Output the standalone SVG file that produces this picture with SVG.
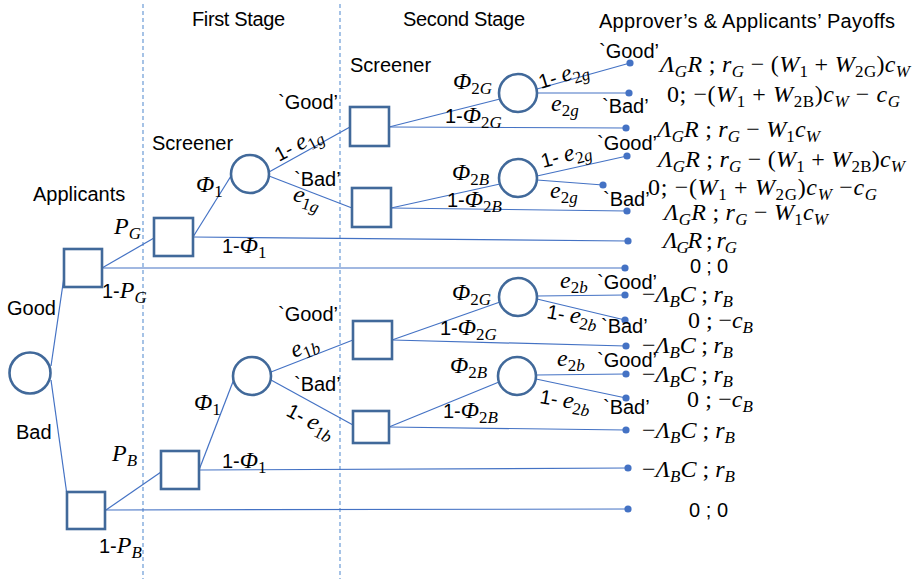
<svg xmlns="http://www.w3.org/2000/svg" width="916" height="579" viewBox="0 0 916 579">
<style>
.bg{fill:#fff}
.dash{stroke:#6B9BD6;stroke-width:1.2;stroke-dasharray:4 3;fill:none}
.ln{stroke:#4472C4;stroke-width:1.2;fill:none}
.dot{fill:#4472C4}
.nd{fill:#fff;stroke:#41699A;stroke-width:2.6}
.t{font-family:"Liberation Sans",Arial,sans-serif;font-size:20px;fill:#000}
.m{font-family:"Liberation Serif","DejaVu Serif",serif;font-style:italic;font-size:24px;fill:#000}
.p{font-family:"Liberation Serif","DejaVu Serif",serif;font-style:italic;font-size:24px;fill:#000}
.sb{font-size:17px}
.p .sb{font-size:17px}
.u{font-style:normal}
.sn{font-family:"Liberation Sans",Arial,sans-serif;font-style:normal;font-size:20px}
</style>
<rect class="bg" x="0" y="0" width="916" height="579"/>
<g id="stage-dividers">
<line class="dash" x1="143" y1="4" x2="143" y2="579"/>
<line class="dash" x1="340" y1="4" x2="340" y2="579"/>
</g>
<g id="connectors">
<line class="ln" x1="51" y1="366" x2="64" y2="277"/>
<line class="ln" x1="51" y1="380" x2="67" y2="495"/>
<line class="ln" x1="102" y1="268" x2="154" y2="238"/>
<line class="ln" x1="102" y1="268" x2="625" y2="268"/>
<line class="ln" x1="193" y1="237" x2="231" y2="176"/>
<line class="ln" x1="193" y1="237" x2="628" y2="241"/>
<line class="ln" x1="269" y1="172" x2="350" y2="127"/>
<line class="ln" x1="269" y1="176" x2="352" y2="208"/>
<line class="ln" x1="389" y1="127" x2="500" y2="99"/>
<line class="ln" x1="389" y1="127" x2="626" y2="128"/>
<line class="ln" x1="537" y1="89" x2="630" y2="63"/>
<line class="ln" x1="537" y1="93" x2="629" y2="93"/>
<line class="ln" x1="391" y1="208" x2="500" y2="184"/>
<line class="ln" x1="391" y1="208" x2="627" y2="211"/>
<line class="ln" x1="537" y1="176" x2="627" y2="156"/>
<line class="ln" x1="537" y1="180" x2="603" y2="185"/>
<line class="ln" x1="106" y1="510" x2="161" y2="472"/>
<line class="ln" x1="106" y1="510" x2="628" y2="509"/>
<line class="ln" x1="199" y1="470" x2="234" y2="379"/>
<line class="ln" x1="199" y1="470" x2="628" y2="468"/>
<line class="ln" x1="271" y1="372" x2="353" y2="340"/>
<line class="ln" x1="271" y1="380" x2="353" y2="425"/>
<line class="ln" x1="392" y1="340" x2="500" y2="302"/>
<line class="ln" x1="392" y1="340" x2="626" y2="346"/>
<line class="ln" x1="537" y1="296" x2="625" y2="295"/>
<line class="ln" x1="537" y1="299" x2="625" y2="320"/>
<line class="ln" x1="389" y1="427" x2="499" y2="382"/>
<line class="ln" x1="389" y1="427" x2="626" y2="430"/>
<line class="ln" x1="536" y1="375" x2="626" y2="374"/>
<line class="ln" x1="536" y1="379" x2="626" y2="398"/>
<g id="end-dots">
<circle class="dot" cx="630" cy="63" r="3.6"/>
<circle class="dot" cx="629" cy="93" r="3.6"/>
<circle class="dot" cx="626" cy="128" r="3.6"/>
<circle class="dot" cx="627" cy="156" r="3.6"/>
<circle class="dot" cx="603" cy="185" r="3.6"/>
<circle class="dot" cx="627" cy="211" r="3.6"/>
<circle class="dot" cx="628" cy="241" r="3.6"/>
<circle class="dot" cx="625" cy="268" r="3.6"/>
<circle class="dot" cx="625" cy="295" r="3.6"/>
<circle class="dot" cx="625" cy="320" r="3.6"/>
<circle class="dot" cx="626" cy="346" r="3.6"/>
<circle class="dot" cx="626" cy="374" r="3.6"/>
<circle class="dot" cx="626" cy="398" r="3.6"/>
<circle class="dot" cx="626" cy="430" r="3.6"/>
<circle class="dot" cx="628" cy="468" r="3.6"/>
<circle class="dot" cx="628" cy="509" r="3.6"/>
</g>
</g>
<g id="nature"><circle class="nd" cx="30" cy="373" r="20.5"/></g>
<g id="applicant-good"><rect class="nd" x="64" y="249" width="38" height="38"/></g>
<g id="applicant-bad"><rect class="nd" x="67" y="492" width="38" height="37"/></g>
<g id="screener1-good"><rect class="nd" x="154" y="218" width="39" height="38"/></g>
<g id="screener1-bad"><rect class="nd" x="161" y="451" width="38" height="38"/></g>
<g id="signal1-good"><circle class="nd" cx="250" cy="174" r="19"/></g>
<g id="signal1-bad"><circle class="nd" cx="252" cy="376" r="19"/></g>
<g id="screener2-gg"><rect class="nd" x="350" y="107" width="39" height="39"/></g>
<g id="screener2-gb"><rect class="nd" x="352" y="188" width="39" height="39"/></g>
<g id="screener2-bg"><rect class="nd" x="353" y="321" width="39" height="38"/></g>
<g id="screener2-bb"><rect class="nd" x="353" y="411" width="36" height="32"/></g>
<g id="signal2-gg"><circle class="nd" cx="518" cy="93" r="19"/></g>
<g id="signal2-gb"><circle class="nd" cx="518" cy="178" r="19"/></g>
<g id="signal2-bg"><circle class="nd" cx="518" cy="297" r="19"/></g>
<g id="signal2-bb"><circle class="nd" cx="517" cy="376" r="19"/></g>
<g id="headings">
<text class="t" x="192" y="26" textLength="93">First Stage</text>
<text class="t" x="403" y="26" textLength="122">Second Stage</text>
<text class="t" x="599" y="28" textLength="296">Approver’s &amp; Applicants’ Payoffs</text>
</g>
<g id="labels">
<text class="t" x="350" y="72">Screener</text>
<text class="t" x="152" y="150">Screener</text>
<text class="t" x="33" y="201">Applicants</text>
<text class="t" x="7" y="315">Good</text>
<text class="t" x="16" y="439">Bad</text>
<text class="t" x="278" y="109">`Good’</text>
<text class="t" x="294" y="186">`Bad’</text>
<text class="t" x="278" y="321">`Good’</text>
<text class="t" x="294" y="391">`Bad’</text>
<text class="t" x="599" y="58">`Good’</text>
<text class="t" x="602" y="113">`Bad’</text>
<text class="t" x="597" y="150">`Good’</text>
<text class="t" x="603" y="206">`Bad’</text>
<text class="t" x="597" y="289">`Good’</text>
<text class="t" x="601" y="333">`Bad’</text>
<text class="t" x="597" y="367">`Good’</text>
<text class="t" x="603" y="414">`Bad’</text>

<text class="m" x="114" y="234">P<tspan class="sb" dy="5">G</tspan></text>
<text class="m" x="102" y="298"><tspan class="sn">1-</tspan>P<tspan class="sb" dy="5">G</tspan></text>
<text class="m" x="112" y="461">P<tspan class="sb" dy="5">B</tspan></text>
<text class="m" x="99" y="553"><tspan class="sn">1-</tspan>P<tspan class="sb" dy="5">B</tspan></text>
<text class="m" x="196" y="192">Φ<tspan class="sb u" dy="5">1</tspan></text>
<text class="m" x="222" y="253"><tspan class="sn">1-</tspan>Φ<tspan class="sb u" dy="5">1</tspan></text>
<text class="m" x="194" y="410">Φ<tspan class="sb u" dy="5">1</tspan></text>
<text class="m" x="222" y="468"><tspan class="sn">1-</tspan>Φ<tspan class="sb u" dy="5">1</tspan></text>
<text class="m" x="279" y="162" transform="rotate(-28 279 162)"><tspan class="sn">1- </tspan>e<tspan class="sb" dy="5"><tspan class="u">1</tspan>g</tspan></text>
<text class="m" x="292" y="200" transform="rotate(18 292 200)">e<tspan class="sb" dy="5"><tspan class="u">1</tspan>g</tspan></text>
<text class="m" x="294" y="358" transform="rotate(-22 294 358)">e<tspan class="sb" dy="5"><tspan class="u">1</tspan>b</tspan></text>
<text class="m" x="285" y="415" transform="rotate(28 285 415)"><tspan class="sn">1- </tspan>e<tspan class="sb" dy="5"><tspan class="u">1</tspan>b</tspan></text>

<text class="m" x="453" y="89">Φ<tspan class="sb" dy="5"><tspan class="u">2</tspan>G</tspan></text>
<text class="m" x="445" y="123"><tspan class="sn">1-</tspan>Φ<tspan class="sb" dy="5"><tspan class="u">2</tspan>G</tspan></text>
<text class="m" x="452" y="180">Φ<tspan class="sb" dy="5"><tspan class="u">2</tspan>B</tspan></text>
<text class="m" x="447" y="207"><tspan class="sn">1-</tspan>Φ<tspan class="sb" dy="5"><tspan class="u">2</tspan>B</tspan></text>
<text class="m" x="452" y="300">Φ<tspan class="sb" dy="5"><tspan class="u">2</tspan>G</tspan></text>
<text class="m" x="440" y="335"><tspan class="sn">1-</tspan>Φ<tspan class="sb" dy="5"><tspan class="u">2</tspan>G</tspan></text>
<text class="m" x="450" y="373">Φ<tspan class="sb" dy="5"><tspan class="u">2</tspan>B</tspan></text>
<text class="m" x="443" y="418"><tspan class="sn">1-</tspan>Φ<tspan class="sb" dy="5"><tspan class="u">2</tspan>B</tspan></text>

<text class="m" x="541" y="89" transform="rotate(-17 541 89)"><tspan class="sn">1- </tspan>e<tspan class="sb" dy="5"><tspan class="u">2</tspan>g</tspan></text>
<text class="m" x="551" y="111">e<tspan class="sb" dy="5"><tspan class="u">2</tspan>g</tspan></text>
<text class="m" x="543" y="168" transform="rotate(-15 543 168)"><tspan class="sn">1- </tspan>e<tspan class="sb" dy="5"><tspan class="u">2</tspan>g</tspan></text>
<text class="m" x="550" y="198">e<tspan class="sb" dy="5"><tspan class="u">2</tspan>g</tspan></text>
<text class="m" x="560" y="288">e<tspan class="sb" dy="5"><tspan class="u">2</tspan>b</tspan></text>
<text class="m" x="546" y="318" transform="rotate(10 546 318)"><tspan class="sn">1- </tspan>e<tspan class="sb" dy="5"><tspan class="u">2</tspan>b</tspan></text>
<text class="m" x="557" y="366">e<tspan class="sb" dy="5"><tspan class="u">2</tspan>b</tspan></text>
<text class="m" x="539" y="403" transform="rotate(10 539 403)"><tspan class="sn">1- </tspan>e<tspan class="sb" dy="5"><tspan class="u">2</tspan>b</tspan></text>
</g>
<g id="payoffs">
<text class="p" x="660" y="72" textLength="250">Λ<tspan class="sb" dy="5">G</tspan><tspan dy="-5">R</tspan><tspan class="u"> ; </tspan>r<tspan class="sb" dy="5">G</tspan><tspan class="u" dy="-5"> − (</tspan>W<tspan class="sb u" dy="5">1</tspan><tspan class="u" dy="-5"> + </tspan>W<tspan class="sb u" dy="5">2G</tspan><tspan class="u" dy="-5">)</tspan>c<tspan class="sb" dy="5">W</tspan></text>
<text class="p" x="667" y="102" textLength="233"><tspan class="u">0; −(</tspan>W<tspan class="sb u" dy="5">1</tspan><tspan class="u" dy="-5"> + </tspan>W<tspan class="sb u" dy="5">2B</tspan><tspan class="u" dy="-5">)</tspan>c<tspan class="sb" dy="5">W</tspan><tspan class="u" dy="-5"> − </tspan>c<tspan class="sb" dy="5">G</tspan></text>
<text class="p" x="657" y="137" textLength="163">Λ<tspan class="sb" dy="5">G</tspan><tspan dy="-5">R</tspan><tspan class="u"> ; </tspan>r<tspan class="sb" dy="5">G</tspan><tspan class="u" dy="-5"> − </tspan>W<tspan class="sb u" dy="5">1</tspan><tspan dy="-5">c</tspan><tspan class="sb" dy="5">W</tspan></text>
<text class="p" x="658" y="167" textLength="247">Λ<tspan class="sb" dy="5">G</tspan><tspan dy="-5">R</tspan><tspan class="u"> ; </tspan>r<tspan class="sb" dy="5">G</tspan><tspan class="u" dy="-5"> − (</tspan>W<tspan class="sb u" dy="5">1</tspan><tspan class="u" dy="-5"> + </tspan>W<tspan class="sb u" dy="5">2B</tspan><tspan class="u" dy="-5">)</tspan>c<tspan class="sb" dy="5">W</tspan></text>
<text class="p" x="648" y="195" textLength="229"><tspan class="u">0; −(</tspan>W<tspan class="sb u" dy="5">1</tspan><tspan class="u" dy="-5"> + </tspan>W<tspan class="sb u" dy="5">2G</tspan><tspan class="u" dy="-5">)</tspan>c<tspan class="sb" dy="5">W</tspan><tspan class="u" dy="-5"> −</tspan>c<tspan class="sb" dy="5">G</tspan></text>
<text class="p" x="664" y="220" textLength="164">Λ<tspan class="sb" dy="5">G</tspan><tspan dy="-5">R</tspan><tspan class="u"> ; </tspan>r<tspan class="sb" dy="5">G</tspan><tspan class="u" dy="-5"> − </tspan>W<tspan class="sb u" dy="5">1</tspan><tspan dy="-5">c</tspan><tspan class="sb" dy="5">W</tspan></text>
<text class="p" x="663" y="248" textLength="74">Λ<tspan class="sb" dy="5">G</tspan><tspan dy="-5">R</tspan><tspan class="u"> ; </tspan>r<tspan class="sb" dy="5">G</tspan></text>
<text class="t" x="690" y="273" textLength="38">0 ; 0</text>
<text class="p" x="642" y="302" textLength="91"><tspan class="u">−</tspan>Λ<tspan class="sb" dy="5">B</tspan><tspan dy="-5">C</tspan><tspan class="u"> ; </tspan>r<tspan class="sb" dy="5">B</tspan></text>
<text class="p" x="688" y="328" textLength="65"><tspan class="u">0 ; −</tspan>c<tspan class="sb" dy="5">B</tspan></text>
<text class="p" x="642" y="353" textLength="91"><tspan class="u">−</tspan>Λ<tspan class="sb" dy="5">B</tspan><tspan dy="-5">C</tspan><tspan class="u"> ; </tspan>r<tspan class="sb" dy="5">B</tspan></text>
<text class="p" x="642" y="382" textLength="91"><tspan class="u">−</tspan>Λ<tspan class="sb" dy="5">B</tspan><tspan dy="-5">C</tspan><tspan class="u"> ; </tspan>r<tspan class="sb" dy="5">B</tspan></text>
<text class="p" x="687" y="407" textLength="66"><tspan class="u">0 ; −</tspan>c<tspan class="sb" dy="5">B</tspan></text>
<text class="p" x="642" y="438" textLength="93"><tspan class="u">−</tspan>Λ<tspan class="sb" dy="5">B</tspan><tspan dy="-5">C</tspan><tspan class="u"> ; </tspan>r<tspan class="sb" dy="5">B</tspan></text>
<text class="p" x="642" y="477" textLength="93"><tspan class="u">−</tspan>Λ<tspan class="sb" dy="5">B</tspan><tspan dy="-5">C</tspan><tspan class="u"> ; </tspan>r<tspan class="sb" dy="5">B</tspan></text>
<text class="t" x="689" y="517" textLength="39">0 ; 0</text>
</g>
</svg>
